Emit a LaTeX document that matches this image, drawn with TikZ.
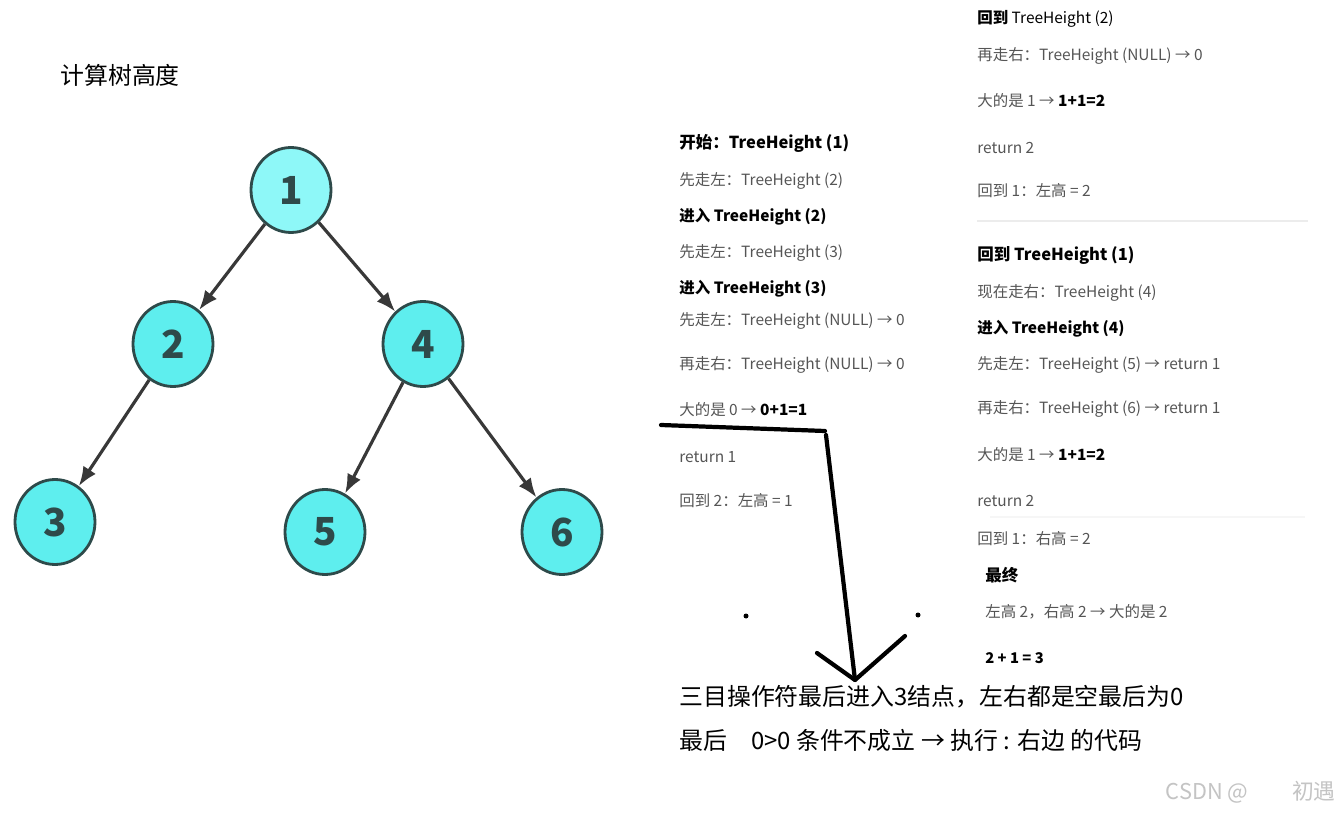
\documentclass[tikz,border=0pt]{standalone}
\usepackage{fontspec}
\setmainfont{Noto Sans CJK SC}
\usepackage{tikz}
\usetikzlibrary{shapes.geometric,arrows.meta,positioning}
\definecolor{RootCyan}{HTML}{8EF8F8}
\definecolor{NodeCyan}{HTML}{5EEEEE}
\definecolor{NodeEdge}{HTML}{2E4A4A}
\definecolor{EdgeGray}{HTML}{383838}
\definecolor{StepGray}{HTML}{555555}
\definecolor{RuleGray}{HTML}{ECECEC}
\definecolor{MarkGray}{HTML}{C4C4C4}
\tikzset{
    % Tree node style
    treenode/.style={
        ellipse,
        draw=NodeEdge,
        fill=NodeCyan,
        line width=1.6pt,
        minimum width=1.6cm,
        minimum height=1.7cm,
        inner sep=0pt,
        text=NodeEdge,
        font=\fontsize{22}{22}\selectfont\bfseries
    },
    % Root node style
    rootnode/.style={
        treenode,
        fill=RootCyan
    },
    % Tree arrow style
    treearrow/.style={
        -{Latex[length=11pt,width=8.5pt]},
        line width=1.8pt,
        draw=EdgeGray
    },
    % Step line style
    steptext/.style={
        anchor=west,
        inner sep=0pt,
        text=StepGray,
        font=\fontsize{8.8}{10}\selectfont
    },
    % Heading line style
    headtext/.style={
        steptext,
        text=black,
        font=\fontsize{9.4}{11}\selectfont\bfseries
    },
    % Note line style
    notetext/.style={
        anchor=west,
        inner sep=0pt,
        text=black,
        font=\fontsize{13.6}{16}\selectfont
    },
    % Hand drawn stroke
    penline/.style={
        line width=2.4pt,
        line cap=round,
        line join=round,
        draw=black
    }
}
\begin{document}
\begin{tikzpicture}[x=0.02cm,y=-0.02cm]
    \fill[white] (0,0) rectangle (1340,814);
    \node[notetext,anchor=west] (title) at (60,75) {计算树高度};

    % tree
    \node[rootnode] (n1) at (291,190) {1};
    \node[treenode] (n2) at (173,344) {2};
    \node[treenode] (n4) at (423,344) {4};
    \node[treenode] (n3) at (55,522) {3};
    \node[treenode] (n5) at (325,532) {5};
    \node[treenode] (n6) at (562,532) {6};

    \draw[treearrow] (n1) -- (n2);
    \draw[treearrow] (n1) -- (n4);
    \draw[treearrow] (n2) -- (n3);
    \draw[treearrow] (n4) -- (n5);
    \draw[treearrow] (n4) -- (n6);

    % left column
    \node[headtext] (a1) at (679,143) {开始：TreeHeight (1)};
    \node[steptext] (a2) at (679,181) {先走左：TreeHeight (2)};
    \node[headtext,font=\fontsize{8.8}{10}\selectfont\bfseries] (a3) at (679,217) {进入 TreeHeight (2)};
    \node[steptext] (a4) at (679,253) {先走左：TreeHeight (3)};
    \node[headtext,font=\fontsize{8.8}{10}\selectfont\bfseries] (a5) at (679,289) {进入 TreeHeight (3)};
    \node[steptext] (a6) at (679,321) {先走左：TreeHeight (NULL) → 0};
    \node[steptext] (a7) at (679,365) {再走右：TreeHeight (NULL) → 0};
    \node[steptext] (a8) at (679,410) {大的是 0 → \textcolor{black}{\textbf{0+1=1}}};
    \node[steptext] (a9) at (679,457) {return 1};
    \node[steptext] (a10) at (679,501) {回到 2：左高 = 1};

    % right column
    \node[steptext,text=black] (b1) at (977,19) {\textbf{回到} TreeHeight (2)};
    \node[steptext] (b2) at (977,56) {再走右：TreeHeight (NULL) → 0};
    \node[steptext] (b3) at (977,101) {大的是 1 → \textcolor{black}{\textbf{1+1=2}}};
    \node[steptext] (b4) at (977,148) {return 2};
    \node[steptext] (b5) at (977,191) {回到 1：左高 = 2};
    \draw[RuleGray,line width=0.6pt] (977,221) -- (1308,221);
    \node[headtext] (b6) at (977,255) {回到 TreeHeight (1)};
    \node[steptext] (b7) at (977,293) {现在走右：TreeHeight (4)};
    \node[headtext,font=\fontsize{8.8}{10}\selectfont\bfseries] (b8) at (977,329) {进入 TreeHeight (4)};
    \node[steptext] (b9) at (977,365) {先走左：TreeHeight (5) → return 1};
    \node[steptext] (b10) at (977,409) {再走右：TreeHeight (6) → return 1};
    \node[steptext] (b11) at (977,455) {大的是 1 → \textcolor{black}{\textbf{1+1=2}}};
    \node[steptext] (b12) at (977,501) {return 2};
    \draw[RuleGray!50,line width=0.6pt] (990,517) -- (1305,517);
    \node[steptext] (b13) at (977,539) {回到 1：右高 = 2};
    \node[headtext] (b14) at (985,575) {最终};
    \node[steptext] (b15) at (985,612) {左高 2，右高 2 → 大的是 2};
    \node[headtext,font=\fontsize{8.4}{10}\selectfont\bfseries] (b16) at (985,658) {2 + 1 = 3};

    % notes
    \node[notetext] (c1) at (679,697) {三目操作符最后进入3结点，左右都是空最后为0};
    \node[notetext] (c2) at (679,740) {最后\quad 0>0 条件不成立 → 执行 : 右边 的代码};
    \node[notetext,anchor=east,text=MarkGray,font=\fontsize{12.4}{14}\selectfont] (mark) at (1336,792) {CSDN @\quad\quad 初遇};

    % hand drawn arrow
    \coordinate (p1) at (661,425);
    \coordinate (p2) at (825,431);
    \coordinate (p3) at (826,435);
    \coordinate (p4) at (855,680);
    \coordinate (p5) at (817,653);
    \coordinate (p6) at (905,636);
    \draw[penline] (p1) -- (p2);
    \draw[penline] (p3) -- (p4);
    \draw[penline] (p5) -- (p4) -- (p6);
    \fill (746,616) circle (2.5);
    \fill (918,615) circle (2.5);
\end{tikzpicture}
\end{document}
